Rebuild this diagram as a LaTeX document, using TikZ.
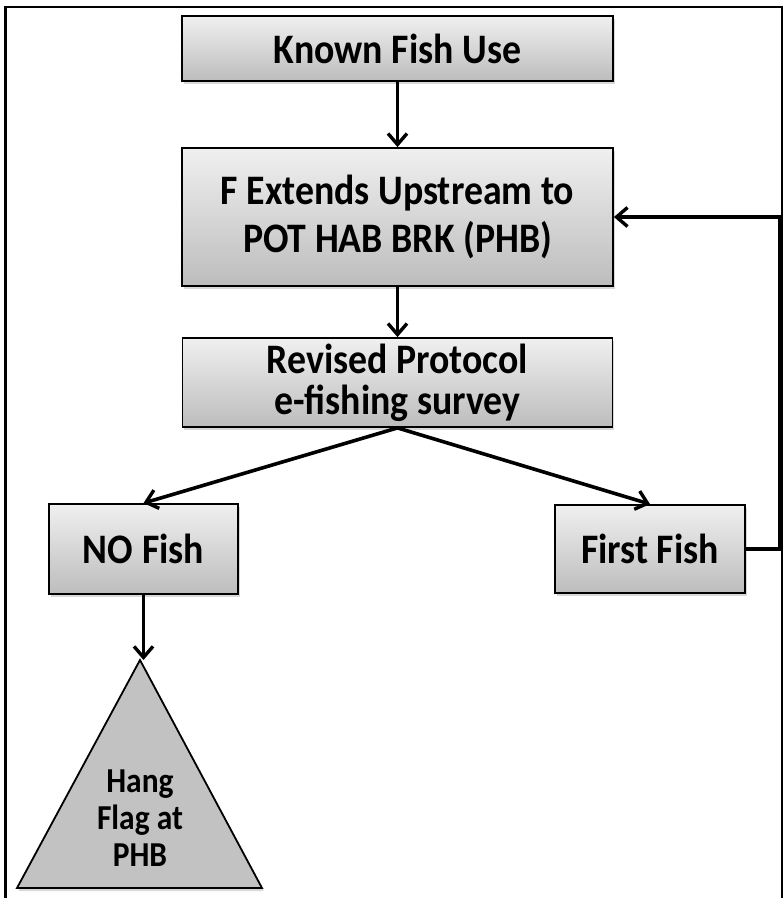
\documentclass[tikz,border=0pt]{standalone}
\usepackage{fontspec}
\setmainfont{Carlito}[FakeStretch=0.9]
\usetikzlibrary{arrows.meta,shadows}
\tikzset{
  flowbox/.style={draw, line width=1.8pt, top color=gray!12, bottom color=gray!52,
    drop shadow={shadow xshift=1.5pt, shadow yshift=-3pt, opacity=0.3},
    align=center, inner sep=0pt, font=\fontsize{42}{48}\selectfont\bfseries},
  flowarrow/.style={line width=3.6pt, -{Straight Barb[length=11pt,width=19pt,line width=3.4pt]}},
}
\begin{document}
\begin{tikzpicture}[x=1pt,y=-1pt]
\useasboundingbox (0,0) rectangle (784,898);
\clip (0,0) rectangle (784,898);
\fill[white] (0,0) rectangle (784,898);
\draw[line width=2.4pt] (5.5,7) rectangle (782,920);

\node[flowbox, minimum width=431, minimum height=65] (known) at (397.5,48.5) {Known Fish Use};
\node[flowbox, minimum width=431, minimum height=138] (ext) at (397.5,217) {F Extends Upstream to\\POT HAB BRK (PHB)};
\node[flowbox, minimum width=430, minimum height=89, font=\fontsize{42}{41}\selectfont\bfseries] (rev) at (397.5,382.5) {Revised Protocol\\e-fishing survey};
\node[flowbox, minimum width=189, minimum height=90] (nofish) at (143.5,549) {NO Fish};
\node[flowbox, minimum width=190, minimum height=88] (first) at (650,549) {First Fish};

\coordinate (apex) at (140,660);
\draw[line width=1.8pt, fill=gray!48, drop shadow={shadow xshift=1.5pt, shadow yshift=-3pt, opacity=0.3}]
  (apex) -- (262,888) -- (17,888) -- cycle;
\node[align=center, inner sep=0pt, font=\fontsize{35}{37}\selectfont\bfseries] (flag) at (140,818) {Hang\\Flag at\\PHB};

\draw[flowarrow] (known.south) -- (ext.north);
\draw[flowarrow] (ext.south) -- (rev.north);
\draw[flowarrow] (rev.south) -- (nofish.north);
\draw[flowarrow] (rev.south) -- (first.north);
\draw[flowarrow] (nofish.south) -- (nofish.south |- apex);
\draw[flowarrow] (first.east) -- ++(34,0) |- (ext.east);
\end{tikzpicture}
\end{document}
